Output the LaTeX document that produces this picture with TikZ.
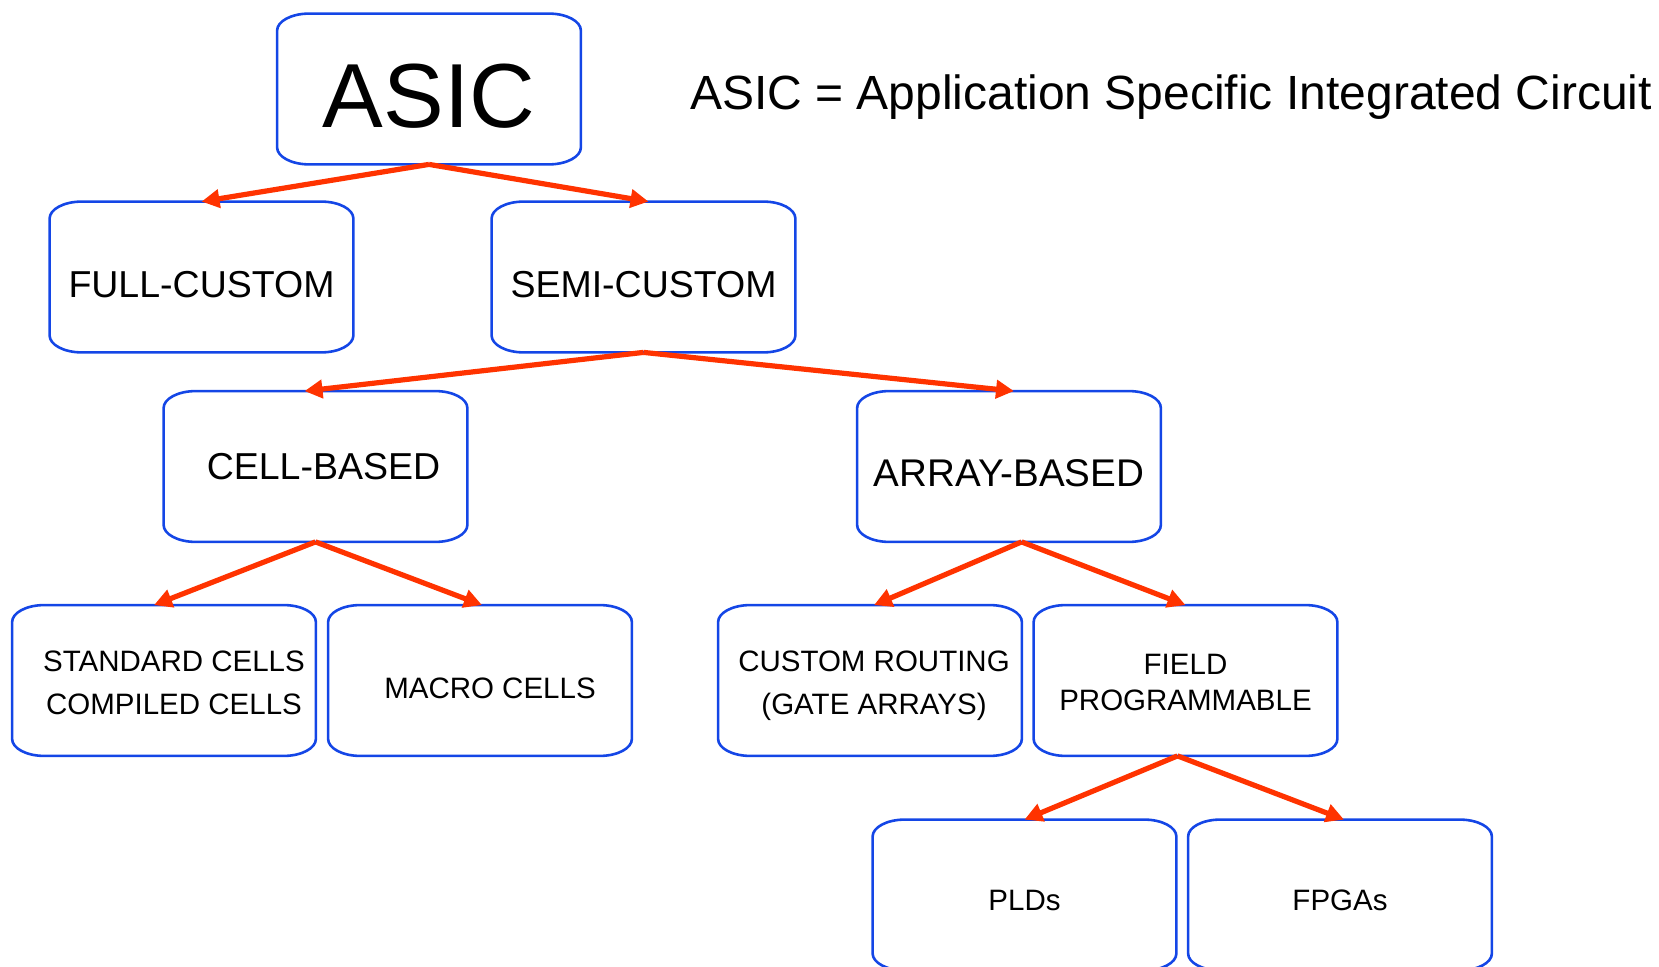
\documentclass[tikz,border=0pt]{standalone}
\usepackage{fontspec}
\setmainfont{Liberation Sans}
\usetikzlibrary{arrows.meta}
\definecolor{boxblue}{RGB}{20,70,230}
\definecolor{arrred}{RGB}{255,51,0}
\newcommand\mylow[1]{\rule{0pt}{#1}}
\tikzset{
  box/.style={draw=none, minimum width=151.5pt, minimum height=75pt, inner sep=0pt, align=center, text=black},
  boxline/.style={draw=boxblue, line width=1.3pt},
  medtxt/.style={font=\fontsize{18.75}{22}\selectfont},
  smalltxt/.style={font=\fontsize{14.75}{21.5}\selectfont},
  conn/.style={draw=arrred, line width=2.6pt, -{Triangle[length=9pt,width=9pt]}},
}
\begin{document}
\begin{tikzpicture}[x=0.5pt,y=-0.5pt]
\useasboundingbox (0,0) rectangle (1659,967);
\node[box, font=\fontsize{45.5}{50}\selectfont] (asic) at (429,89) {\mylow{39.1pt}ASIC};
\node[anchor=center, font=\fontsize{24}{28}\selectfont] (def) at (1171,97) {ASIC = Application Specific Integrated Circuit};
\node[box, medtxt] (full) at (201.5,277) {\mylow{20.8pt}FULL-CUSTOM};
\node[box, medtxt] (semi) at (643.5,277) {\mylow{20.8pt}SEMI-CUSTOM};
\node[box, medtxt] (cell) at (315.5,466.5) {\hspace*{8pt}CELL-BASED};
\node[box, font=\fontsize{19.3}{22}\selectfont] (array) at (1009,466.5) {\mylow{20.3pt}ARRAY-BASED};
\node[box, smalltxt] (std) at (164,680.5) {\hspace*{10pt}\mylow{12.6pt}STANDARD CELLS\\\hspace*{10pt}COMPILED CELLS};
\node[box, smalltxt] (macro) at (480,680.5) {\hspace*{10pt}\mylow{18pt}MACRO CELLS};
\node[box, smalltxt] (route) at (870,680.5) {\hspace*{4pt}\mylow{15.9pt}CUSTOM ROUTING\\\hspace*{4pt}(GATE ARRAYS)};
\node[box, font=\fontsize{14.75}{18}\selectfont] (field) at (1185.5,680.5) {\mylow{12.6pt}FIELD\\PROGRAMMABLE};
\node[box, smalltxt] (pld) at (1024.5,895) {\mylow{15.9pt}PLDs};
\node[box, smalltxt] (fpga) at (1340,895) {\mylow{15.9pt}FPGAs};
\begin{scope}[x=1pt,y=1pt]
\foreach \n in {asic,full,semi,cell,array,std,macro,route,field,pld,fpga}{
  \draw[boxline] ([xshift=16pt]\n.north west) -- ([xshift=-16pt]\n.north east)
    arc[start angle=90,end angle=0,x radius=16pt,y radius=8.5pt]
    -- ([yshift=8.5pt]\n.south east)
    arc[start angle=0,end angle=-90,x radius=16pt,y radius=8.5pt]
    -- ([xshift=16pt]\n.south west)
    arc[start angle=270,end angle=180,x radius=16pt,y radius=8.5pt]
    -- ([yshift=-8.5pt]\n.north west)
    arc[start angle=180,end angle=90,x radius=16pt,y radius=8.5pt] -- cycle;
}
\end{scope}
\draw[conn] (asic.south) -- (full.north);
\draw[conn] (asic.south) -- ([xshift=2.5pt]semi.north);
\draw[conn] (semi.south) -- ([xshift=-5.5pt]cell.north);
\draw[conn] (semi.south) -- ([xshift=2.5pt]array.north);
\draw[conn] (cell.south) -- ([xshift=-5pt]std.north);
\draw[conn] (cell.south) -- ([xshift=1pt]macro.north);
\draw[conn] ([xshift=6.3pt]array.south) -- ([xshift=2pt]route.north);
\draw[conn] ([xshift=6.3pt]array.south) -- (field.north);
\draw[conn] ([xshift=-4pt]field.south) -- (pld.north);
\draw[conn] ([xshift=-4pt]field.south) -- ([xshift=2pt]fpga.north);
\end{tikzpicture}
\end{document}
